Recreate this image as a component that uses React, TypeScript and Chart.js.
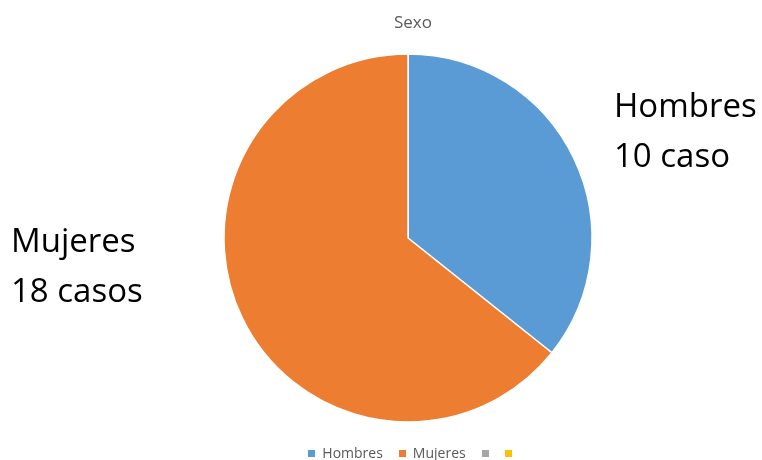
import React, { useEffect, useRef } from "react";
import { Chart, registerables } from "chart.js";

Chart.register(...registerables);

const categories = ["Hombres", "Mujeres", "", ""];
const values = [10, 18, 0, 0];
const colors = ["#5B9BD5", "#ED7D31", "#A5A5A5", "#FFC000"];
const titleText = "Sexo";
const calloutLines = [
  ["Hombres", "10 caso"],
  ["Mujeres", "18 casos"],
];

const FONT = "'Open Sans', 'Noto Sans', sans-serif";

const textPlugin = {
  id: "texts",
  afterDraw(chart: any) {
    const ctx = chart.ctx;
    ctx.save();
    // title
    ctx.fillStyle = "#595959";
    ctx.font = `17px ${FONT}`;
    ctx.textAlign = "center";
    ctx.textBaseline = "alphabetic";
    ctx.fillText(titleText, 413, 28);
    // callouts
    ctx.fillStyle = "#000000";
    ctx.font = `33px ${FONT}`;
    ctx.textAlign = "left";
    const pos = [
      { x: 614, y: 117 },
      { x: 11, y: 252 },
    ];
    calloutLines.forEach((lines, i) => {
      lines.forEach((t, j) => {
        ctx.fillText(t, pos[i].x, pos[i].y + j * 50);
      });
    });
    ctx.restore();
  },
};

const legendPlugin = {
  id: "customLegend",
  afterDraw(chart: any) {
    const ctx = chart.ctx;
    ctx.save();
    ctx.font = `14px ${FONT}`;
    ctx.textBaseline = "middle";
    ctx.textAlign = "left";
    const box = 7;
    const gap = 7;
    const itemGap = 16;
    const labels = chart.data.labels as string[];
    const bg = chart.data.datasets[0].backgroundColor as string[];
    const widths = labels.map((l) => box + (l ? gap + ctx.measureText(l).width : 0));
    const total = widths.reduce((a, b) => a + b, 0) + itemGap * (labels.length - 1);
    let x = 410 - total / 2;
    const y = 453.5;
    labels.forEach((l, i) => {
      ctx.fillStyle = bg[i];
      ctx.fillRect(Math.round(x), Math.round(y - box / 2), box, box);
      if (l) {
        ctx.fillStyle = "#595959";
        ctx.fillText(l, x + box + gap, y + 1);
      }
      x += widths[i] + itemGap;
    });
    ctx.restore();
  },
};

export default function App() {
  const ref = useRef<HTMLCanvasElement>(null);
  useEffect(() => {
    if (!ref.current) return;
    const chart = new Chart(ref.current, {
      type: "pie",
      data: {
        labels: categories,
        datasets: [
          {
            data: values,
            backgroundColor: colors,
            borderColor: "#ffffff",
            borderWidth: 1.5,
          },
        ],
      },
      options: {
        animation: false,
        responsive: true,
        maintainAspectRatio: false,
        radius: 184,
        layout: { padding: { left: 54, right: 0, top: 54, bottom: 38 } },
        plugins: {
          legend: { display: false },
          tooltip: { enabled: false },
          title: { display: false },
        },
      } as any,
      plugins: [textPlugin, legendPlugin],
    });
    return () => chart.destroy();
  }, []);
  return (
    <div style={{ position: "fixed", left: 0, top: 0, width: 762, height: 460, background: "#fff" }}>
      <canvas ref={ref} />
    </div>
  );
}
